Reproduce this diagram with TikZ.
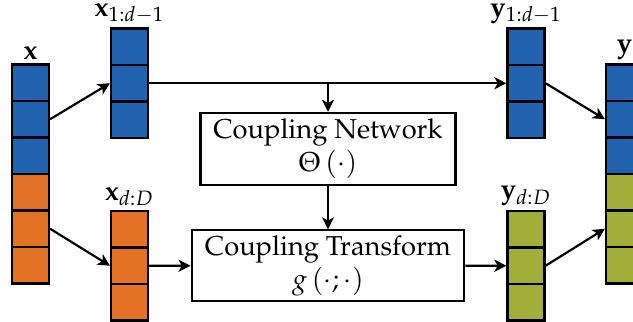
\documentclass[tikz,border=0pt]{standalone}
\usepackage[T1]{fontenc}
\usepackage{mathpazo}
\usetikzlibrary{arrows.meta}
\definecolor{cblue}{RGB}{33,99,174}
\definecolor{corange}{RGB}{228,114,38}
\definecolor{colive}{RGB}{162,174,58}

\begin{document}
\begin{tikzpicture}[x=1.287mm, y=1.287mm, thick,
    >={Stealth[length=4.4pt, width=4.4pt, inset=1.2pt]},
    cell/.style={draw, minimum width=4.76mm, minimum height=4.7mm, inner sep=0pt},
    block/.style={draw, align=center, inner sep=0pt},
    lbl/.style={above, inner sep=1pt}]
  \useasboundingbox (0,0) rectangle (63.3,32.2);
  \clip (0,0) rectangle (63.3,32.2);

  % input vector
  \foreach \i in {1,2,3} \node[cell, fill=cblue] (x\i) at (3.05,{27.575-3.65*\i}) {};
  \foreach \i in {4,5,6} \node[cell, fill=corange] (x\i) at (3.05,{27.575-3.65*\i}) {};
  % split
  \foreach \i in {1,2,3} \node[cell, fill=cblue] (xa\i) at (12.95,{31.175-3.65*\i}) {};
  \foreach \i in {1,2,3} \node[cell, fill=corange] (xb\i) at (12.95,{12.925-3.65*\i}) {};
  % outputs
  \foreach \i in {1,2,3} \node[cell, fill=cblue] (ya\i) at (52.6,{31.175-3.65*\i}) {};
  \foreach \i in {1,2,3} \node[cell, fill=colive] (yb\i) at (52.6,{12.925-3.65*\i}) {};
  \foreach \i in {1,2,3} \node[cell, fill=cblue] (y\i) at (62.45,{27.575-3.65*\i}) {};
  \foreach \i in {4,5,6} \node[cell, fill=colive] (y\i) at (62.45,{27.575-3.65*\i}) {};

  \node[lbl] (xlab) at (x1.north) {$\mathbf{x}$};
  \node[lbl] (xalab) at (xa1.north) {$\mathbf{x}_{1:d-1}$};
  \node[lbl] (xblab) at (xb1.north) {$\mathbf{x}_{d:D}$};
  \node[lbl] (yalab) at (ya1.north) {$\mathbf{y}_{1:d-1}$};
  \node[lbl] (yblab) at (yb1.north) {$\mathbf{y}_{d:D}$};
  \node[lbl] (ylab) at (y1.north) {$\mathbf{y}$};

  \node[block, minimum width=32.8mm, minimum height=9.3mm] (net) at (32.8,17.3)
    {Coupling Network\\$\Theta\left(\cdot\right)$};
  \node[block, minimum width=35.1mm, minimum height=9.1mm] (trans) at (32.8,5.625)
    {Coupling Transform\\$g\left(\cdot;\cdot\right)$};

  \draw[->] (x2.east) -- (xa2.west);
  \draw[->] (x5.east) -- (xb2.west);
  \draw[->] (xa2.east) -- (ya2.west);
  \draw[->] (net.north |- xa2.east) -- (net.north);
  \draw[->] (net.south) -- (trans.north);
  \draw[->] (xb2.east) -- (trans.west);
  \draw[->] (trans.east) -- (yb2.west);
  \draw[->] (ya2.east) -- (y2.west);
  \draw[->] (yb2.east) -- (y5.west);
\end{tikzpicture}
\end{document}
